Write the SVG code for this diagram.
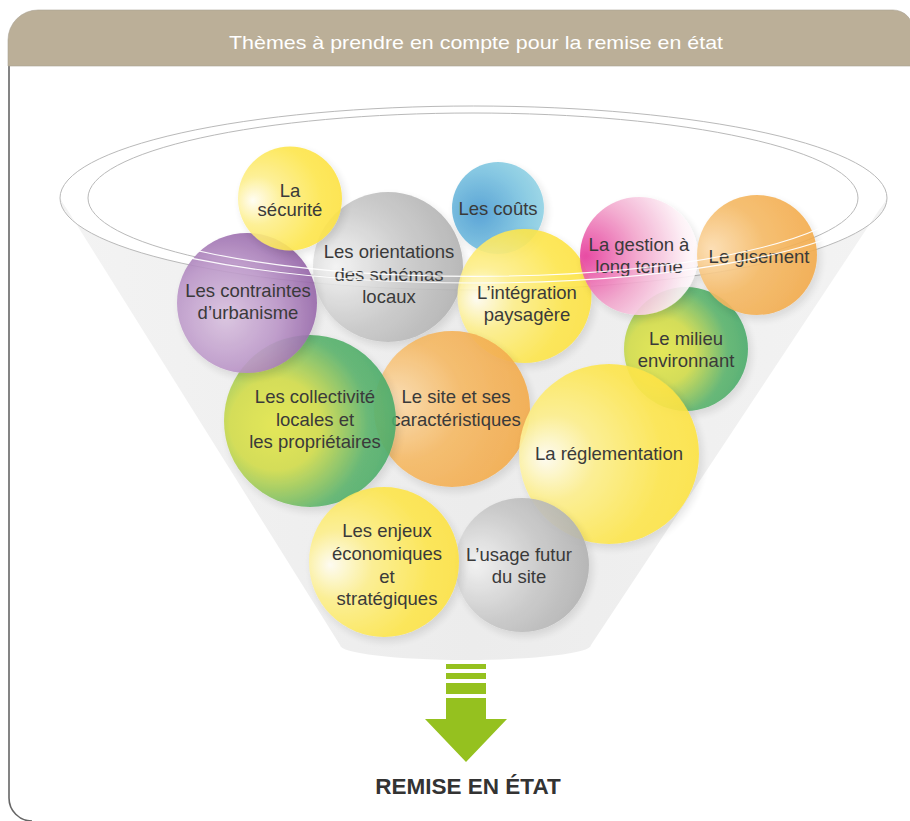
<svg xmlns="http://www.w3.org/2000/svg" width="910" height="821" viewBox="0 0 910 821">
<defs>
<style>
.t{font-family:"Liberation Sans",Arial,sans-serif;font-size:18.5px;fill:#3a3a3a;text-anchor:middle}
.c{opacity:0.9;filter:url(#sh)}
.rim{fill:none;stroke:#b9b9b9;stroke-width:1}
.rimw{fill:none;stroke:#ffffff;stroke-width:1.1;opacity:0.95}
</style>
<filter id="sh" x="-20%" y="-20%" width="150%" height="150%">
<feDropShadow dx="3" dy="4" stdDeviation="4" flood-color="#000" flood-opacity="0.12"/>
</filter>
<linearGradient id="gF" x1="0" y1="0" x2="1" y2="0">
<stop offset="0" stop-color="#f3f3f3"/><stop offset="0.5" stop-color="#ececec"/><stop offset="1" stop-color="#f3f3f3"/>
</linearGradient>
<radialGradient id="gY" cx="0.3" cy="0.52" r="0.78" fx="0.14" fy="0.52">
<stop offset="0" stop-color="#fffdf2"/><stop offset="0.3" stop-color="#fdef8c"/><stop offset="0.7" stop-color="#fde64d"/><stop offset="1" stop-color="#fde13e"/>
</radialGradient>
<radialGradient id="gG" cx="0.3" cy="0.5" r="0.8" fx="0.15" fy="0.5">
<stop offset="0" stop-color="#f2f2f2"/><stop offset="0.5" stop-color="#c9c9c9"/><stop offset="1" stop-color="#ababab"/>
</radialGradient>
<radialGradient id="gB" cx="0.3" cy="0.55" r="0.8">
<stop offset="0" stop-color="#4a9bd2"/><stop offset="0.6" stop-color="#7cc4e0"/><stop offset="1" stop-color="#9ad8e6"/>
</radialGradient>
<radialGradient id="gO" cx="0.25" cy="0.45" r="0.85" fx="0.12" fy="0.45">
<stop offset="0" stop-color="#fcdcae"/><stop offset="0.45" stop-color="#f5b964"/><stop offset="1" stop-color="#f2a745"/>
</radialGradient>
<radialGradient id="gP" cx="0.35" cy="0.6" r="0.75">
<stop offset="0" stop-color="#d9c2df"/><stop offset="0.5" stop-color="#bb96c8"/><stop offset="1" stop-color="#8a579f"/>
</radialGradient>
<radialGradient id="gK" cx="0.05" cy="0.5" r="1">
<stop offset="0" stop-color="#e6399a"/><stop offset="0.45" stop-color="#f2a5cc"/><stop offset="0.85" stop-color="#fdf0f6"/><stop offset="1" stop-color="#ffffff"/>
</radialGradient>
<radialGradient id="gV" cx="0.3" cy="0.52" r="0.75">
<stop offset="0" stop-color="#e3e64a"/><stop offset="0.35" stop-color="#d2dc4a"/><stop offset="0.72" stop-color="#5bb36c"/><stop offset="1" stop-color="#45a86a"/>
</radialGradient>
</defs>

<rect width="910" height="821" fill="#ffffff"/>

<g id="frame">
<path d="M9,66 V798 A23,23 0 0 0 32,821" fill="none" stroke="#666" stroke-width="1.6"/>
<path d="M8,66 V40 A30,30 0 0 1 38,10 H893 A20,20 0 0 1 913,30 V66 Z" fill="#bbaf98" stroke="#aaa295" stroke-width="0.6"/>
<text x="476" y="49" font-family="'Liberation Sans',Arial,sans-serif" font-size="19" fill="#ffffff" text-anchor="middle" textLength="494" lengthAdjust="spacingAndGlyphs">Thèmes à prendre en compte pour la remise en état</text>
</g>

<g id="funnel">
<path d="M60,198 A413.5,92 0 0 0 887,198 L591,645 A125.5,15 0 0 1 340,645 Z" fill="url(#gF)"/>
<ellipse class="rim" cx="473.5" cy="198" rx="413.5" ry="92"/>
<ellipse class="rim" cx="473" cy="198" rx="385" ry="85"/>
</g>

<g id="n-orientations">
<circle class="c" cx="388" cy="267" r="75" fill="url(#gG)"/>
<text class="t" x="389" y="258">Les orientations</text>
<text class="t" x="389" y="281">des schémas</text>
<text class="t" x="389" y="303">locaux</text>
</g>
<g id="n-couts">
<circle class="c" cx="498" cy="208" r="46" fill="url(#gB)"/>
<text class="t" x="498" y="215">Les coûts</text>
</g>
<g id="n-integration">
<circle class="c" cx="524.5" cy="296" r="67" fill="url(#gY)"/>
<text class="t" x="527" y="299">L’intégration</text>
<text class="t" x="527" y="321">paysagère</text>
</g>
<g id="n-site">
<circle class="c" cx="452" cy="409" r="78" fill="url(#gO)"/>
<text class="t" x="456" y="403">Le site et ses</text>
<text class="t" x="456" y="426">caractéristiques</text>
</g>
<g id="n-collectivites">
<circle class="c" cx="310" cy="421" r="86" fill="url(#gV)"/>
<text class="t" x="315" y="403">Les collectivité</text>
<text class="t" x="315" y="426">locales et</text>
<text class="t" x="315" y="448">les propriétaires</text>
</g>
<g id="n-contraintes">
<circle class="c" cx="247" cy="303" r="70" fill="url(#gP)"/>
<text class="t" x="248" y="297">Les contraintes</text>
<text class="t" x="248" y="319">d’urbanisme</text>
</g>
<g id="n-securite">
<circle class="c" cx="290" cy="198.5" r="52" fill="url(#gY)"/>
<text class="t" x="290" y="197">La</text>
<text class="t" x="290" y="216">sécurité</text>
</g>
<g id="n-milieu">
<circle class="c" cx="686" cy="349" r="62" fill="url(#gV)"/>
<text class="t" x="686" y="345">Le milieu</text>
<text class="t" x="686" y="367">environnant</text>
</g>
<g id="n-gestion">
<circle class="c" cx="639" cy="256" r="59" fill="url(#gK)"/>
<text class="t" x="639" y="251">La gestion à</text>
<text class="t" x="639" y="273">long terme</text>
</g>
<g id="n-gisement">
<circle class="c" cx="757" cy="255" r="60" fill="url(#gO)"/>
<text class="t" x="759" y="263">Le gisement</text>
</g>
<g id="n-reglementation">
<circle class="c" cx="609" cy="454" r="90" fill="url(#gY)"/>
<text class="t" x="609" y="460">La réglementation</text>
</g>
<g id="n-usage">
<circle class="c" cx="522" cy="565" r="67" fill="url(#gG)"/>
<text class="t" x="519" y="561">L’usage futur</text>
<text class="t" x="519" y="583">du site</text>
</g>
<g id="n-enjeux">
<circle class="c" cx="384" cy="562" r="75" fill="url(#gY)"/>
<text class="t" x="387" y="537">Les enjeux</text>
<text class="t" x="387" y="560">économiques</text>
<text class="t" x="387" y="583">et</text>
<text class="t" x="387" y="605">stratégiques</text>
</g>

<g id="rim-front">
<path class="rimw" d="M62,200 A413.5,92 0 0 0 885,200"/>
<path class="rimw" d="M90,200 A385,85 0 0 0 856,200"/>
</g>

<g id="connectors">
<g id="result-arrow" fill="#95c11f">
<rect x="446" y="664" width="40" height="5"/>
<rect x="446" y="673" width="40" height="6"/>
<rect x="446" y="683" width="40" height="11"/>
<polygon points="446,698 486,698 486,719 507,719 466,762 425,719 446,719"/>
</g>
</g>

<g id="n-remise">
<text x="468" y="794" font-family="'Liberation Sans',Arial,sans-serif" font-size="22.5" font-weight="bold" fill="#333333" text-anchor="middle">REMISE EN ÉTAT</text>
</g>
</svg>
